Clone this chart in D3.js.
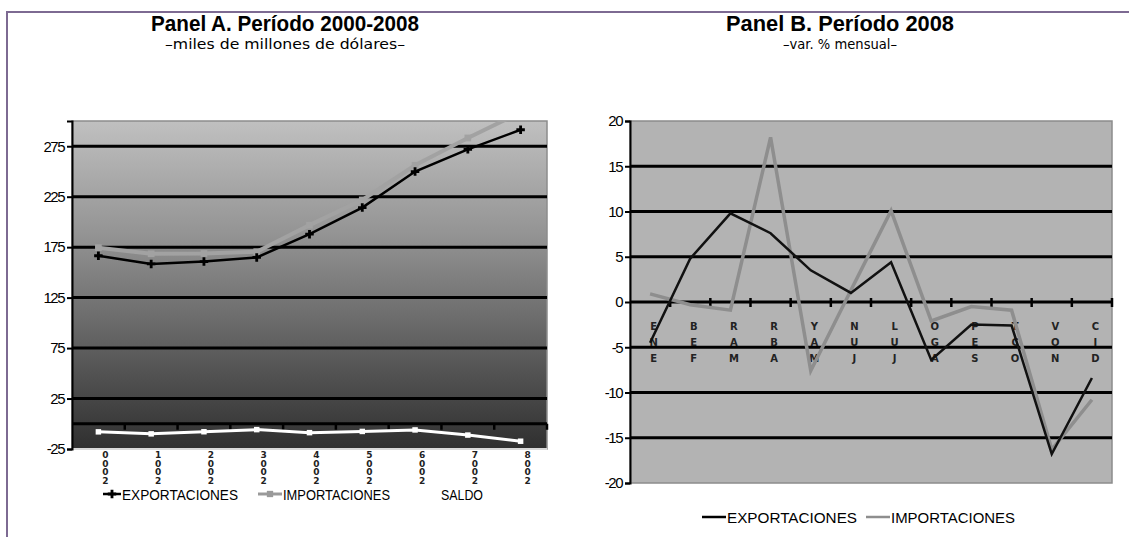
<!DOCTYPE html>
<html>
<head>
<meta charset="utf-8">
<script src="https://cdn.jsdelivr.net/npm/d3@7"></script>
<style>
  body { margin: 0; background: #fff; }
  svg { display: block; }
</style>
</head>
<body>
<svg id="chart" width="1129" height="537"></svg>
<script>
// Panel A: 2000-2008, miles de millones de dólares
const years = ["2000", "2001", "2002", "2003", "2004", "2005", "2006", "2007", "2008"];
const exportsA = [166.5, 158.4, 160.7, 164.8, 187.9, 214.2, 249.9, 271.9, 291.3];
const importsA = [174.5, 168.4, 168.7, 170.5, 196.8, 221.8, 256.1, 283.2, 308.6];
const saldoA = [-8.0, -10.0, -7.9, -5.8, -8.8, -7.6, -6.1, -11.2, -17.3];
const ticksA = [-25, 25, 75, 125, 175, 225, 275];

// Panel B: 2008, var. % mensual
const months = ["ENE", "FEB", "MAR", "ABR", "MAY", "JUN", "JUL", "AGO", "SEP", "OCT", "NOV", "DIC"];
const exportsB = [-4.5, 4.8, 9.8, 7.6, 3.5, 1.0, 4.4, -6.4, -2.5, -2.6, -16.8, -8.4];
const importsB = [0.9, -0.3, -0.9, 18.2, -7.6, 1.3, 10.1, -2.1, -0.5, -0.9, -16.3, -10.8];
const ticksB = [-20, -15, -10, -5, 0, 5, 10, 15, 20];

const narrow = "'Liberation Sans Narrow', 'Liberation Sans', Arial, sans-serif";
const plain = "'Liberation Sans', Arial, sans-serif";

const svg = d3.select("#chart");

// purple frame of the page
svg.append("path")
    .attr("d", "M7,537V12H1129")
    .attr("fill", "none")
    .attr("stroke", "#7d6a92")
    .attr("stroke-width", 2);

function titles(cx, title, sub, titleW, subW) {
    svg.append("text")
        .attr("x", cx).attr("y", 31)
        .attr("text-anchor", "middle")
        .attr("font-family", narrow)
        .attr("font-weight", "bold")
        .attr("font-size", 22)
        .attr("textLength", titleW)
        .attr("lengthAdjust", "spacingAndGlyphs")
        .text(title);
    svg.append("text")
        .attr("x", cx).attr("y", 49)
        .attr("text-anchor", "middle")
        .attr("font-family", "'DejaVu Sans', sans-serif")
        .attr("font-size", 14)
        .attr("textLength", subW)
        .attr("lengthAdjust", "spacingAndGlyphs")
        .text(sub);
}

function yAxis(scale, x, ticks) {
    const g = svg.append("g")
        .attr("transform", `translate(${x},0)`)
        .call(d3.axisLeft(scale).tickValues(ticks).tickFormat(d => String(d)).tickSize(5).tickPadding(3));
    g.select(".domain").attr("stroke", "#000").attr("stroke-width", 2);
    g.selectAll(".tick line").attr("stroke", "#000").attr("stroke-width", 2);
    g.selectAll(".tick text")
        .attr("font-family", plain)
        .attr("font-size", 15)
        .attr("letter-spacing", "-1.5px")
        .attr("fill", "#000");
}

function stackedLabels(scale, labels, dx, y0, step, size) {
    const bw = scale.bandwidth();
    labels.forEach(lab => {
        const chars = lab.split("").reverse();
        svg.append("g")
            .selectAll("text")
            .data(chars)
            .enter()
            .append("text")
            .attr("x", scale(lab) + bw / 2 + dx)
            .attr("y", (c, j) => y0 + j * step)
            .attr("text-anchor", "middle")
            .attr("font-family", "'DejaVu Sans', sans-serif")
            .attr("font-weight", "bold")
            .attr("font-size", size)
            .attr("fill", "#222")
            .text(c => c);
    });
}

function legendItem(x, y, segW, color, width, textW, label, marker) {
    svg.append("line")
        .attr("x1", x).attr("x2", x + segW)
        .attr("y1", y - 6).attr("y2", y - 6)
        .attr("stroke", color).attr("stroke-width", width);
    if (marker) {
        svg.append("path")
            .attr("transform", `translate(${x + segW / 2},${y - 6})`)
            .attr("d", d3.symbol().type(marker).size(40))
            .attr("fill", color);
    }
    svg.append("text")
        .attr("x", x + segW + 1).attr("y", y)
        .attr("font-family", plain)
        .attr("font-size", 15)
        .attr("textLength", textW)
        .attr("lengthAdjust", "spacingAndGlyphs")
        .attr("fill", "#000")
        .text(label);
}

// ---------------- Panel A ----------------
const mA = {left: 72, right: 547, top: 121, bottom: 449};
const xA = d3.scaleBand().domain(years).range([mA.left, mA.right]);
const yA = d3.scaleLinear().domain([-25, 300]).range([mA.bottom, mA.top]);
const bwA = xA.bandwidth();

const defs = svg.append("defs");
const grad = defs.append("linearGradient")
    .attr("id", "gradA").attr("x1", 0).attr("y1", 0).attr("x2", 0).attr("y2", 1);
grad.append("stop").attr("offset", "0%").attr("stop-color", "#c0c0c0");
grad.append("stop").attr("offset", "35%").attr("stop-color", "#939393");
grad.append("stop").attr("offset", "100%").attr("stop-color", "#2f2f2f");

defs.append("clipPath").attr("id", "clipA")
    .append("rect")
    .attr("x", mA.left).attr("y", mA.top)
    .attr("width", mA.right - mA.left).attr("height", mA.bottom - mA.top);

svg.append("rect")
    .attr("x", mA.left).attr("y", mA.top)
    .attr("width", mA.right - mA.left).attr("height", mA.bottom - mA.top)
    .attr("fill", "url(#gradA)")
    .attr("stroke", "#8c8c8c").attr("stroke-width", 1.5);

// gridlines
svg.append("g")
    .selectAll("line")
    .data(ticksA.filter(t => t > -25))
    .enter()
    .append("line")
    .attr("x1", mA.left).attr("x2", mA.right)
    .attr("y1", d => yA(d)).attr("y2", d => yA(d))
    .attr("stroke", "#000").attr("stroke-width", 3);

// light bottom edge
svg.append("line")
    .attr("x1", mA.left).attr("x2", mA.right)
    .attr("y1", yA(-25)).attr("y2", yA(-25))
    .attr("stroke", "#d8d8d8").attr("stroke-width", 2);

// category axis at zero
svg.append("line")
    .attr("x1", mA.left).attr("x2", mA.right)
    .attr("y1", yA(0)).attr("y2", yA(0))
    .attr("stroke", "#000").attr("stroke-width", 3);
svg.append("g")
    .selectAll("line")
    .data(years)
    .enter()
    .append("line")
    .attr("x1", d => xA(d) + bwA).attr("x2", d => xA(d) + bwA)
    .attr("y1", yA(0)).attr("y2", yA(0) + 6)
    .attr("stroke", "#000").attr("stroke-width", 2.5);

yAxis(yA, mA.left, ticksA);
stackedLabels(xA, years, 7, 458, 8.5, 9);

const lineA = d3.line().x((d, i) => xA(years[i]) + bwA / 2).y(d => yA(d));
const plotA = svg.append("g").attr("clip-path", "url(#clipA)");

function seriesA(values, color, width, marker, msize) {
    plotA.append("path")
        .datum(values)
        .attr("d", lineA)
        .attr("fill", "none")
        .attr("stroke", color)
        .attr("stroke-width", width);
    plotA.append("g")
        .selectAll("path")
        .data(values)
        .enter()
        .append("path")
        .attr("transform", (d, i) => `translate(${xA(years[i]) + bwA / 2},${yA(d)})`)
        .attr("d", d3.symbol().type(marker).size(msize))
        .attr("fill", color);
}
seriesA(importsA, "#a2a2a2", 4, d3.symbolSquare, 45);
seriesA(exportsA, "#000", 2.5, d3.symbolCross, 40);
seriesA(saldoA, "#fff", 3, d3.symbolSquare, 30);

titles(285, "Panel A. Período 2000-2008", "\u2013miles de millones de dólares\u2013", 268, 240);

legendItem(103, 500, 18, "#000", 2.5, 116, "EXPORTACIONES", d3.symbolCross);
legendItem(258, 500, 24, "#9a9a9a", 3, 107, "IMPORTACIONES", d3.symbolSquare);
legendItem(420, 500, 20, "#fff", 3, 42, "SALDO", d3.symbolSquare);

// ---------------- Panel B ----------------
const mB = {left: 630, right: 1112, top: 121, bottom: 483};
const xB = d3.scaleBand().domain(months).range([mB.left, mB.right]);
const yB = d3.scaleLinear().domain([-20, 20]).range([mB.bottom, mB.top]);
const bwB = xB.bandwidth();

svg.append("rect")
    .attr("x", mB.left).attr("y", mB.top)
    .attr("width", mB.right - mB.left).attr("height", mB.bottom - mB.top)
    .attr("fill", "#b3b3b3")
    .attr("stroke", "#8c8c8c").attr("stroke-width", 1.5);

svg.append("g")
    .selectAll("line")
    .data(ticksB.filter(t => t > -20 && t < 20))
    .enter()
    .append("line")
    .attr("x1", mB.left).attr("x2", mB.right)
    .attr("y1", d => yB(d)).attr("y2", d => yB(d))
    .attr("stroke", "#000").attr("stroke-width", 3);

svg.append("g")
    .selectAll("line")
    .data(months)
    .enter()
    .append("line")
    .attr("x1", d => xB(d) + bwB).attr("x2", d => xB(d) + bwB)
    .attr("y1", yB(0) - 4).attr("y2", yB(0) + 5)
    .attr("stroke", "#000").attr("stroke-width", 2.5);

yAxis(yB, mB.left, ticksB);
stackedLabels(xB, months, 3.5, 330, 16, 10);

const lineB = d3.line().x((d, i) => xB(months[i]) + bwB / 2).y(d => yB(d));
svg.append("path")
    .datum(importsB)
    .attr("d", lineB)
    .attr("fill", "none")
    .attr("stroke", "#8e8e8e")
    .attr("stroke-width", 3.5);
svg.append("path")
    .datum(exportsB)
    .attr("d", lineB)
    .attr("fill", "none")
    .attr("stroke", "#111")
    .attr("stroke-width", 2.5);

titles(840, "Panel B. Período 2008", "\u2013var. % mensual\u2013", 228, 114);

legendItem(702, 523, 24, "#000", 2.5, 130, "EXPORTACIONES", null);
legendItem(866, 523, 24, "#8e8e8e", 2.5, 124, "IMPORTACIONES", null);
</script>
</body>
</html>
